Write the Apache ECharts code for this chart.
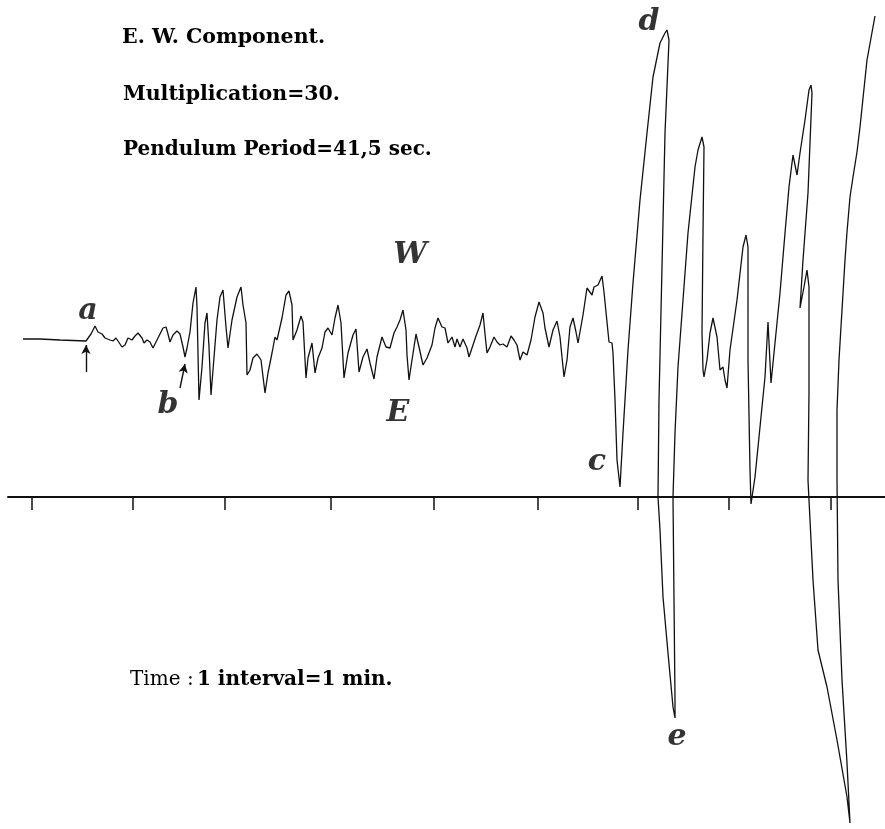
<!DOCTYPE html>
<html>
<head>
<meta charset="utf-8">
<script src="https://cdn.jsdelivr.net/npm/echarts@6/dist/echarts.min.js"></script>
<style>
html,body{margin:0;padding:0;background:#fff;}
#chart{width:885px;height:829px;}
</style>
</head>
<body>
<div id="chart"></div>
<script>
// Record position along the drum (units from the first time mark) and trace height above the time line
var traceX = [-9,8,28,54,59,63,66,70,73,75,78,81,84,86,90,93,96,100,103,106,110,112,115,118,121,125,128,131,134,136,138,141,145,148,151,153,155,158,161,164,165,167,170,173,175,177,179,181,185,188,191,194,196,200,205,209,211,214,215,218,221,225,229,233,236,240,243,245,250,254,257,260,261,265,269,271,274,276,280,283,286,290,293,296,300,303,306,309,312,316,321,324,327,331,335,338,342,345,350,354,358,362,365,368,371,374,375,377,380,384,387,391,395,400,403,406,410,413,416,420,423,425,428,431,435,437,441,444,448,451,453,455,458,462,465,468,471,475,479,482,485,488,491,495,499,503,507,511,513,517,521,525,528,532,535,538,541,544,546,551,555,560,562,566,570,572,575,577,580,581,583,585,588,591,596,601,608,615,621,628,633,635,637,633,630,627,626,628,631,636,641,643,643,642,641,643,646,651,656,663,666,670,672,671,670,671,672,675,678,681,685,688,691,693,695,698,705,711,714,716,716,718,719,721,723,728,733,736,739,743,748,753,757,761,765,768,773,777,779,780,776,771,768,772,775,777,777,776,781,786,795,805,815,818,819,815,810,806,805,805,807,810,813,815,818,821,825,828,835,843];
var traceY = [158,158,157,156,163,171,165,163,159,161,157,156,159,157,150,152,159,157,161,164,159,154,157,155,149,157,163,169,170,163,155,162,166,163,150,140,149,165,194,210,190,97,130,174,184,150,102,127,177,200,207,170,149,177,200,210,192,174,122,127,139,143,137,104,124,144,160,157,179,202,206,192,157,167,181,175,119,139,154,124,139,149,165,169,162,179,192,174,119,144,162,168,125,140,148,134,118,140,160,150,149,164,170,177,187,167,142,117,137,163,150,132,139,152,169,179,170,169,154,160,150,158,150,158,149,140,152,161,172,184,163,144,150,160,155,152,153,150,161,157,152,137,145,142,157,180,195,184,169,150,167,176,160,120,137,170,179,165,154,182,209,202,210,212,221,205,175,155,154,144,97,37,10,64,147,214,297,364,420,454,464,467,457,364,230,97,0,-33,-100,-156,-210,-221,-203,-103,0,64,130,197,264,330,347,360,350,264,164,127,120,137,164,179,160,127,130,117,109,147,197,250,262,250,137,27,-7,-6,20,70,120,175,114,154,204,264,310,342,322,344,377,407,412,404,304,237,189,210,227,210,104,17,-83,-153,-190,-243,-300,-326,-325,-266,-183,-83,17,87,137,187,237,265,300,320,345,370,437,481];
// Minute marks on the time line
var tickMarks = [0,101,193,299,402,506,606,697,799];
// Letter labels and their positions
var labelNames = ['a','b','c','d','e','W','E'];
var labelX = [56,136,565,617,645,378,366];
var labelY = [186,92,35,475,-240,242,84];
// Arrows marking onsets a and b: [fromX, fromY, toX, toY]
var arrowA = [54,125,54,152];
var arrowB = [148,109,153,133];
var headerLines = ['E. W. Component.','Multiplication=30.','Pendulum Period=41,5 sec.'];
var timeNote = ['Time :', '1 interval=1 min.'];

var traceData = traceX.map(function(x,i){return [x, traceY[i]];});
var labelData = labelNames.map(function(n,i){return {name:n, value:[labelX[i], labelY[i]]};});

var chart = echarts.init(document.getElementById('chart'));
var serif = '"DejaVu Serif", "Liberation Serif", serif';
chart.setOption({
  animation:false,
  backgroundColor:'#fff',
  grid:{left:8,right:0,top:0,bottom:0,containLabel:false},
  xAxis:{type:'value',min:-24,max:853,
    axisLine:{show:true,onZero:true,lineStyle:{color:'#111',width:2}},
    axisTick:{show:true,customValues:tickMarks,length:13,inside:false,lineStyle:{color:'#111',width:1.5}},
    axisLabel:{show:false},splitLine:{show:false}},
  yAxis:{type:'value',min:-332,max:497,show:false,splitLine:{show:false}},
  graphic:[
    {type:'text',left:122,top:27,style:{text:headerLines[0],font:'bold 20.5px '+serif,fill:'#000'}},
    {type:'text',left:123,top:84,style:{text:headerLines[1],font:'bold 20.5px '+serif,fill:'#000'}},
    {type:'text',left:123,top:140,style:{text:headerLines[2],font:'bold 20px '+serif,fill:'#000'}},
    {type:'text',left:130,top:670,style:{
      text:'{l|'+timeNote[0]+'} {b|'+timeNote[1]+'}',
      rich:{l:{fontFamily:serif,fontSize:20,fontWeight:'normal',fill:'#000'},
            b:{fontFamily:serif,fontSize:20,fontWeight:'bold',fill:'#000'}}}}
  ],
  series:[
    {type:'line',data:traceData,showSymbol:false,symbol:'none',smooth:false,
     lineStyle:{color:'#111',width:1.3},silent:true,
     markLine:{silent:true,symbol:['none','arrow'],symbolSize:[7,9],
       lineStyle:{color:'#111',width:1.4,type:'solid'},label:{show:false},
       data:[
         [{coord:[arrowA[0],arrowA[1]]},{coord:[arrowA[2],arrowA[3]]}],
         [{coord:[arrowB[0],arrowB[1]]},{coord:[arrowB[2],arrowB[3]]}]
       ]}},
    {type:'scatter',data:labelData,symbolSize:0,silent:true,
     label:{show:true,position:'inside',formatter:'{b}',textBorderWidth:0,
       fontFamily:serif,fontStyle:'italic',fontWeight:'bold',fontSize:30,color:'#000'}}
  ]
});
</script>
</body>
</html>
